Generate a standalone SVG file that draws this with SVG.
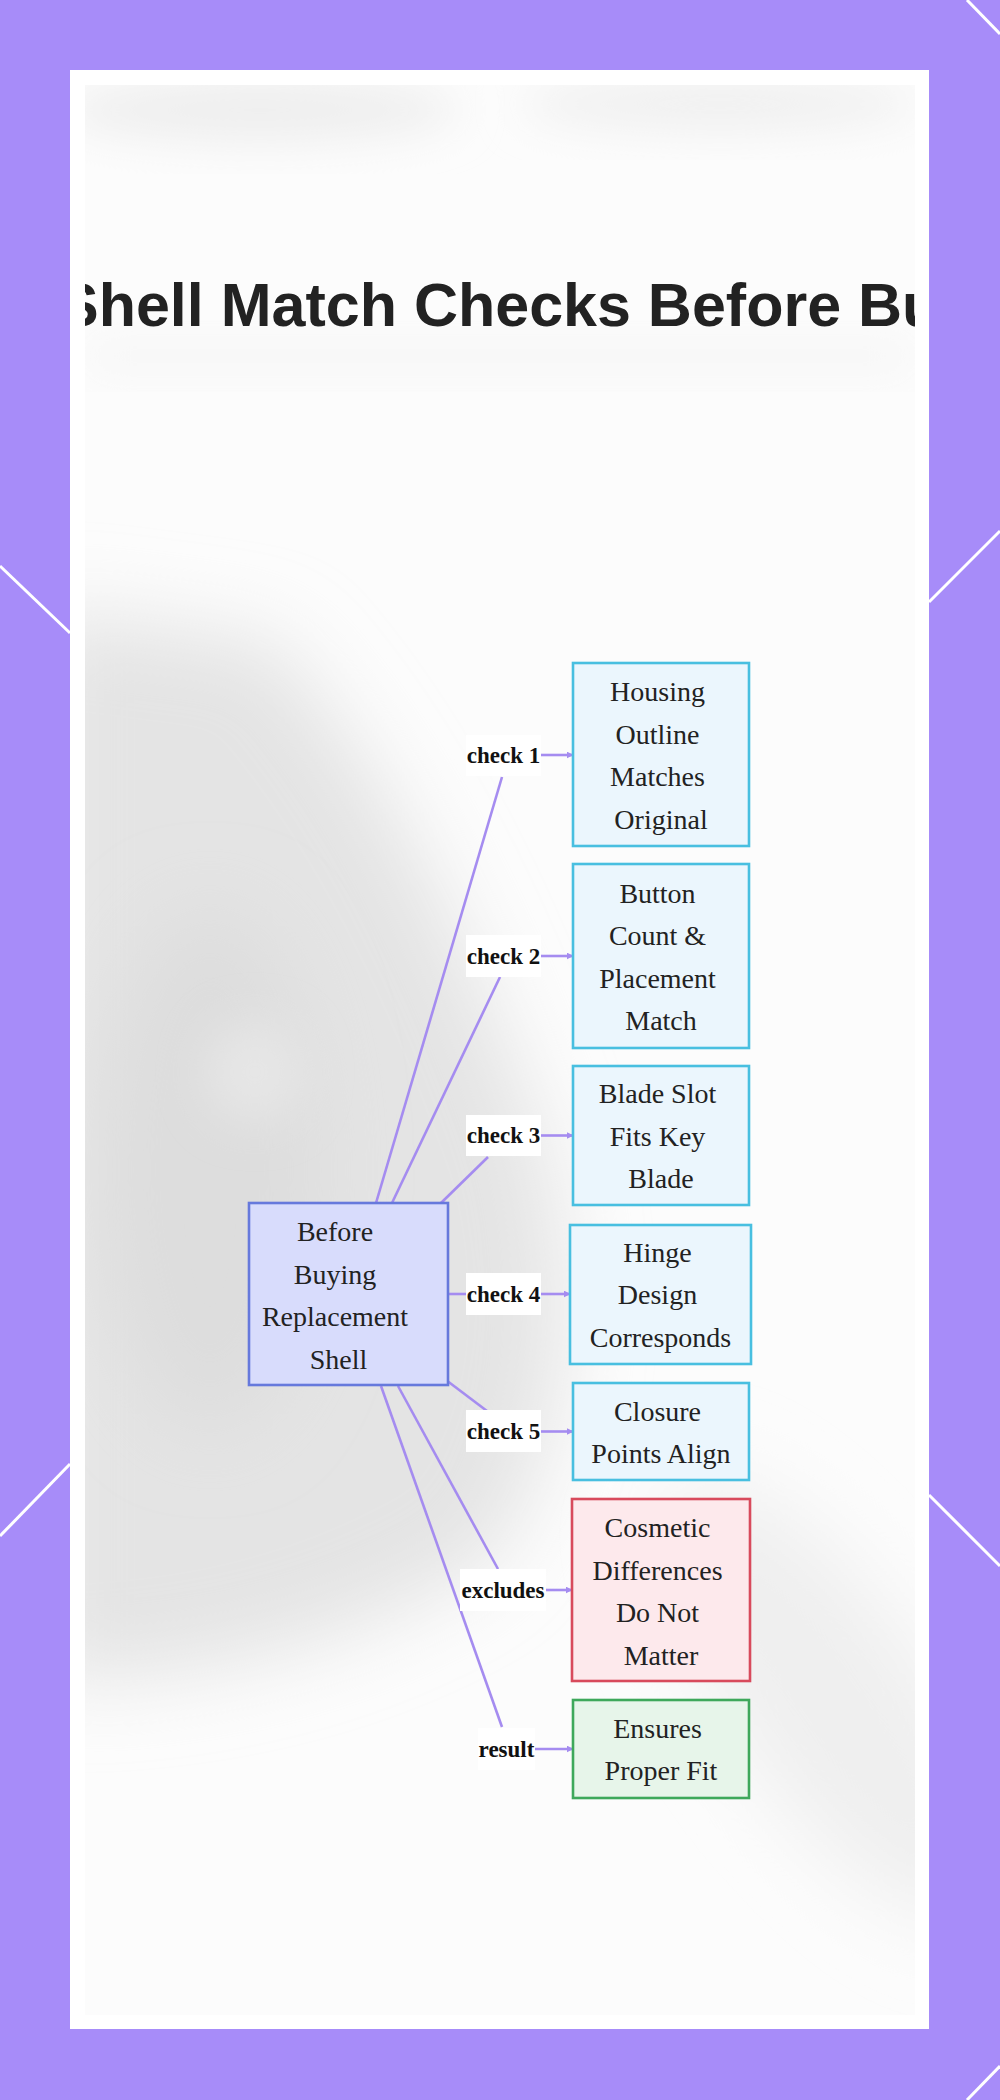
<svg xmlns="http://www.w3.org/2000/svg" width="1000" height="2100" viewBox="0 0 1000 2100">
<defs>
<style>
.node rect{stroke-width:2.6}
.blue rect{fill:#ebf6fd;stroke:#48bfe0}
.center rect{fill:#d8dcfc;stroke:#6679dc}
.red rect{fill:#fde9ec;stroke:#d84a5c}
.green rect{fill:#e7f5ea;stroke:#3ea85b}
.nt{font-family:"Liberation Serif","Times New Roman",serif;font-size:28px;fill:#222;text-anchor:middle}
.lt{font-family:"Liberation Serif","Times New Roman",serif;font-size:23px;font-weight:bold;fill:#111;text-anchor:middle}
.edge{fill:none;stroke:#a58cf0;stroke-width:2.6}
.lbg{fill:#ffffff}
.frame{fill:none;stroke:#ffffff;stroke-width:3}
</style>
<marker id="ah" viewBox="0 0 10 10" refX="9" refY="5" markerWidth="7" markerHeight="7" markerUnits="userSpaceOnUse" orient="auto">
<path d="M0,0 L10,5 L0,10 z" fill="#a58cf0"/>
</marker>
<clipPath id="inner"><rect x="85" y="85" width="830" height="1930"/></clipPath>
<filter id="blur" x="-50%" y="-50%" width="200%" height="200%"><feGaussianBlur stdDeviation="40"/></filter>
<filter id="blur2" x="-50%" y="-50%" width="200%" height="200%"><feGaussianBlur stdDeviation="22"/></filter>
</defs>

<rect x="0" y="0" width="1000" height="2100" fill="#a78cf9"/>
<g class="frame-lines">
<line class="frame" x1="0" y1="566" x2="70" y2="633"/>
<line class="frame" x1="0" y1="1536" x2="70" y2="1464"/>
<line class="frame" x1="929" y1="602" x2="1000" y2="531"/>
<line class="frame" x1="929" y1="1495" x2="1000" y2="1566"/>
<line class="frame" x1="967" y1="0" x2="1000" y2="34"/>
<line class="frame" x1="967" y1="2100" x2="1000" y2="2066"/>
</g>
<rect x="70" y="70" width="859" height="1959" fill="#ffffff"/>

<g clip-path="url(#inner)">
<rect x="85" y="85" width="830" height="1930" fill="#fcfcfc"/>
<ellipse cx="260" cy="110" rx="200" ry="32" fill="#eeeeee" filter="url(#blur2)"/>
<ellipse cx="720" cy="104" rx="200" ry="28" fill="#f0f0f0" filter="url(#blur2)"/>
<rect x="85" y="338" width="830" height="36" fill="#f6f6f6" filter="url(#blur2)"/>
<path d="M40,610 L270,640 Q430,810 545,1150 Q600,1400 490,1560 Q300,1680 40,1680 Z" fill="#e4e4e4" filter="url(#blur)"/>
<ellipse cx="210" cy="1170" rx="110" ry="260" fill="#dddddd" filter="url(#blur)"/>
<circle cx="255" cy="1072" r="50" fill="#e6e6e6" filter="url(#blur2)"/>
<ellipse cx="830" cy="1700" rx="100" ry="260" transform="rotate(-35 830 1700)" fill="#efefef" filter="url(#blur)"/>
<text x="58" y="326" font-family="'Liberation Sans',Arial,sans-serif" font-weight="bold" font-size="61" fill="#222222">Shell Match Checks Before Bu</text>
</g>

<g id="connectors">
<polyline class="edge" points="376,1203 502,777"/>
<line class="edge" x1="541" y1="755" x2="573" y2="755" marker-end="url(#ah)"/>
<polyline class="edge" points="392,1203 500,977"/>
<line class="edge" x1="541" y1="956" x2="573" y2="956" marker-end="url(#ah)"/>
<polyline class="edge" points="441,1203 488,1157"/>
<line class="edge" x1="541" y1="1135.5" x2="573" y2="1135.5" marker-end="url(#ah)"/>
<line class="edge" x1="448" y1="1294" x2="466" y2="1294"/>
<line class="edge" x1="541" y1="1294" x2="570" y2="1294" marker-end="url(#ah)"/>
<polyline class="edge" points="446,1380 487,1411"/>
<line class="edge" x1="541" y1="1431.5" x2="573" y2="1431.5" marker-end="url(#ah)"/>
<polyline class="edge" points="398,1386 498,1569"/>
<line class="edge" x1="546" y1="1590" x2="572" y2="1590" marker-end="url(#ah)"/>
<polyline class="edge" points="381,1386 502,1727"/>
<line class="edge" x1="535" y1="1749" x2="573" y2="1749" marker-end="url(#ah)"/>

<rect class="lbg" x="466" y="735" width="75" height="41"/>
<text class="lt" x="503.5" y="763">check 1</text>
<rect class="lbg" x="466" y="935" width="75" height="42"/>
<text class="lt" x="503.5" y="964">check 2</text>
<rect class="lbg" x="466" y="1115" width="75" height="41"/>
<text class="lt" x="503.5" y="1143">check 3</text>
<rect class="lbg" x="466" y="1273" width="75" height="42"/>
<text class="lt" x="503.5" y="1302">check 4</text>
<rect class="lbg" x="466" y="1410" width="75" height="42"/>
<text class="lt" x="503.5" y="1439">check 5</text>
<rect class="lbg" x="460" y="1569" width="86" height="42"/>
<text class="lt" x="503" y="1598">excludes</text>
<rect class="lbg" x="478" y="1728" width="57" height="42"/>
<text class="lt" x="506.5" y="1757">result</text>
</g>

<g id="node-center" class="node center">
<rect x="249" y="1203" width="199" height="182"/>
<text class="nt" x="335" y="1241">Before</text>
<text class="nt" x="335" y="1283.5">Buying</text>
<text class="nt" x="335" y="1326">Replacement</text>
<text class="nt" x="338.5" y="1368.5">Shell</text>
</g>

<g id="node-housing" class="node blue">
<rect x="573" y="663" width="176" height="183"/>
<text class="nt" x="657.5" y="701">Housing</text>
<text class="nt" x="657.5" y="743.5">Outline</text>
<text class="nt" x="657.5" y="786">Matches</text>
<text class="nt" x="661" y="828.5">Original</text>
</g>

<g id="node-button" class="node blue">
<rect x="573" y="864" width="176" height="184"/>
<text class="nt" x="657.5" y="902.5">Button</text>
<text class="nt" x="657.5" y="945">Count &amp;</text>
<text class="nt" x="657.5" y="987.5">Placement</text>
<text class="nt" x="661" y="1030">Match</text>
</g>

<g id="node-blade" class="node blue">
<rect x="573" y="1066" width="176" height="139"/>
<text class="nt" x="657.5" y="1103">Blade Slot</text>
<text class="nt" x="657.5" y="1145.5">Fits Key</text>
<text class="nt" x="661" y="1188">Blade</text>
</g>

<g id="node-hinge" class="node blue">
<rect x="570" y="1225" width="181" height="139"/>
<text class="nt" x="657.5" y="1261.5">Hinge</text>
<text class="nt" x="657.5" y="1304">Design</text>
<text class="nt" x="660.5" y="1346.5">Corresponds</text>
</g>

<g id="node-closure" class="node blue">
<rect x="573" y="1383" width="176" height="97"/>
<text class="nt" x="657.5" y="1420.5">Closure</text>
<text class="nt" x="661" y="1463">Points Align</text>
</g>

<g id="node-cosmetic" class="node red">
<rect x="572" y="1499" width="178" height="182"/>
<text class="nt" x="657.5" y="1537">Cosmetic</text>
<text class="nt" x="657.5" y="1579.5">Differences</text>
<text class="nt" x="657.5" y="1622">Do Not</text>
<text class="nt" x="661" y="1664.5">Matter</text>
</g>

<g id="node-ensures" class="node green">
<rect x="573" y="1700" width="176" height="98"/>
<text class="nt" x="657.5" y="1737.5">Ensures</text>
<text class="nt" x="661" y="1780">Proper Fit</text>
</g>
</svg>
